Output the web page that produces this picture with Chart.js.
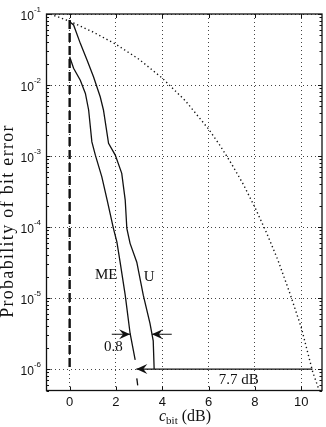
<!DOCTYPE html>
<html>
<head>
<meta charset="utf-8">
<script src="https://cdn.jsdelivr.net/npm/chart.js@4.4.1/dist/chart.umd.min.js"></script>
<style>
  html, body { margin: 0; padding: 0; background: #fff; }
</style>
</head>
<body>
<canvas id="berChart" width="326" height="427"></canvas>
<script>
// axis ticks
const xTicks = [0, 2, 4, 6, 8, 10];
const yDecades = [-6, -5, -4, -3, -2, -1];

// uncoded reference curve (dotted)
const refX = [-1, -0.5, 0, 1, 2, 3, 4, 5, 6, 6.5, 7, 7.5, 8, 8.5, 9, 9.5, 10, 10.5, 10.8];
const refY = [0.104, 0.091, 0.079, 0.056, 0.0375, 0.023, 0.0125, 0.006, 0.0024, 0.0014, 7.7e-4, 4.0e-4, 1.9e-4, 8.4e-5, 3.4e-5, 1.2e-5, 3.9e-6, 9.1e-7, 4.8e-7];

// U curve
const uX = [0, 0.17, 0.46, 0.75, 1.03, 1.32, 1.46, 1.68, 1.97, 2.25, 2.4, 2.47, 2.61, 2.9, 3.18, 3.47, 3.61, 3.65];
const uY = [0.078, 0.07, 0.0386, 0.0225, 0.0131, 0.00684, 0.00445, 0.00151, 0.00103, 5.7e-4, 2.4e-4, 9.6e-5, 5.9e-5, 3.2e-5, 1.1e-5, 4.4e-6, 2.5e-6, 1e-6];

// ME curve
const meX = [0, 0.17, 0.46, 0.68, 0.82, 0.96, 1.11, 1.39, 1.62, 1.89, 2.04, 2.18, 2.4, 2.61, 2.83];
const meY = [0.025, 0.0172, 0.0117, 0.0076, 0.00445, 0.00158, 0.00103, 5.1e-4, 2.4e-4, 9.6e-5, 6.2e-5, 3.2e-5, 1.1e-5, 3.2e-6, 1.35e-6];
const meTailX = [2.9, 2.94];
const meTailY = [7.4e-7, 5.9e-7];

// limit line at 0 dB
const limitX = [0, 0];
const limitY = [0.082, 1e-6];

// arrows: [tail x, tip x] at level y
const arrowMe = { x: [1.82, 2.61], y: 3.1e-6 };
const arrowU = { x: [4.41, 3.55], y: 3.1e-6 };
const arrowGap = { x: [10.49, 2.88], y: 1e-6 };

// text notes
const notes = [
  { text: 'ME', x: 1.58, y: 2.1e-5 },
  { text: 'U', x: 3.43, y: 2.0e-5 },
  { text: '0.8', x: 1.89, y: 2.06e-6 },
  { text: '7.7 dB', x: 7.3, y: 7.0e-7 }
];

const pts = (xs, ys) => xs.map((x, i) => ({ x: x, y: ys[i] }));
const ink = '#111';

const lineSet = (data, extra) => Object.assign({
  data: data,
  borderColor: ink,
  borderWidth: 1.3,
  pointRadius: 0,
  fill: false,
  tension: 0
}, extra || {});

const arrowSet = a => lineSet(pts(a.x, [a.y, a.y]), { borderWidth: 1.1 });

function arrowHead(ctx, tx, ty, dir) {
  ctx.beginPath();
  ctx.moveTo(tx, ty);
  ctx.lineTo(tx - dir * 11, ty - 5);
  ctx.lineTo(tx - dir * 7, ty);
  ctx.lineTo(tx - dir * 11, ty + 5);
  ctx.closePath();
  ctx.fill();
}

const decorations = {
  id: 'decorations',
  afterDatasetsDraw(chart) {
    const ctx = chart.ctx;
    const area = chart.chartArea;
    const xs = chart.scales.x;
    const ys = chart.scales.y;
    ctx.save();
    ctx.strokeStyle = ink;
    ctx.fillStyle = ink;

    // frame
    ctx.lineWidth = 1.3;
    ctx.strokeRect(area.left, area.top, area.right - area.left, area.bottom - area.top);

    // inward ticks
    ctx.lineWidth = 1;
    ctx.beginPath();
    xTicks.forEach(v => {
      const px = Math.round(xs.getPixelForValue(v)) + 0.5;
      ctx.moveTo(px, area.bottom); ctx.lineTo(px, area.bottom - 4);
      ctx.moveTo(px, area.top); ctx.lineTo(px, area.top + 4);
    });
    for (let n = -7; n <= -1; n++) {
      for (let k = 1; k <= 9; k++) {
        const v = k * Math.pow(10, n);
        if (v < ys.min || v > ys.max) continue;
        const py = Math.round(ys.getPixelForValue(v)) + 0.5;
        const len = k === 1 ? 4 : 2.5;
        ctx.moveTo(area.left, py); ctx.lineTo(area.left + len, py);
        ctx.moveTo(area.right, py); ctx.lineTo(area.right - len, py);
      }
    }
    ctx.stroke();

    // y tick labels 10^n
    yDecades.forEach(d => {
      const py = ys.getPixelForValue(Math.pow(10, d));
      const right = 41;
      ctx.textAlign = 'right';
      ctx.textBaseline = 'alphabetic';
      ctx.font = '8px "Liberation Sans"';
      const exp = '-' + (-d);
      const w = ctx.measureText(exp).width;
      ctx.fillText(exp, right, py - 2);
      ctx.font = '12px "Liberation Sans"';
      ctx.fillText('10', right - w, py + 6);
    });

    // arrow heads
    [arrowMe, arrowU, arrowGap].forEach(a => {
      const tip = xs.getPixelForValue(a.x[1]);
      const tail = xs.getPixelForValue(a.x[0]);
      arrowHead(ctx, tip, ys.getPixelForValue(a.y), tip > tail ? 1 : -1);
    });

    // notes
    ctx.font = '15px "Liberation Serif"';
    ctx.textAlign = 'center';
    ctx.textBaseline = 'middle';
    notes.forEach(n => {
      ctx.fillText(n.text, xs.getPixelForValue(n.x), ys.getPixelForValue(n.y));
    });

    // x title: c_bit (dB)
    ctx.textAlign = 'left';
    ctx.textBaseline = 'alphabetic';
    const base = 420.5;
    ctx.font = 'italic 16px "Liberation Serif"';
    const wc = ctx.measureText('c').width;
    ctx.font = '11px "Liberation Serif"';
    const wb = ctx.measureText('bit').width;
    ctx.font = '16px "Liberation Serif"';
    const wd = ctx.measureText(' (dB)').width;
    let x0 = 185 - (wc + wb + wd) / 2;
    ctx.font = 'italic 16px "Liberation Serif"';
    ctx.fillText('c', x0, base);
    ctx.font = '11px "Liberation Serif"';
    ctx.fillText('bit', x0 + wc, base + 3);
    ctx.font = '16px "Liberation Serif"';
    ctx.fillText(' (dB)', x0 + wc + wb, base);

    // y title
    ctx.save();
    ctx.translate(8.5, 221);
    ctx.rotate(-Math.PI / 2);
    ctx.textAlign = 'center';
    ctx.textBaseline = 'middle';
    ctx.font = '18px "Liberation Serif"';
    ctx.letterSpacing = '1.3px';
    ctx.fillText('Probability of bit error', 0, 0);
    ctx.restore();

    ctx.restore();
  }
};

new Chart(document.getElementById('berChart'), {
  type: 'line',
  data: {
    datasets: [
      lineSet(pts(refX, refY), { borderWidth: 1.4, borderDash: [1.3, 2.8] }),
      lineSet(pts(uX, uY)),
      lineSet(pts(meX, meY)),
      lineSet(pts(meTailX, meTailY)),
      lineSet(pts(limitX, limitY), { borderWidth: 2.4, borderDash: [9, 4] }),
      arrowSet(arrowMe),
      arrowSet(arrowU),
      arrowSet(arrowGap)
    ]
  },
  options: {
    responsive: false,
    devicePixelRatio: 1,
    animation: false,
    layout: { padding: { left: 0, top: 14, right: 4, bottom: 0 } },
    plugins: {
      legend: { display: false },
      tooltip: { enabled: false }
    },
    scales: {
      x: {
        type: 'linear',
        min: -1,
        max: 10.9,
        afterBuildTicks: s => { s.ticks = xTicks.map(v => ({ value: v })); },
        afterFit: s => { s.height = 36.5; },
        grid: { color: '#444', lineWidth: 1, drawTicks: false },
        border: { display: false, dash: [1, 3] },
        ticks: {
          padding: 4,
          color: ink,
          font: { family: 'Liberation Sans', size: 13 },
          maxRotation: 0
        }
      },
      y: {
        type: 'logarithmic',
        min: 5e-7,
        max: 0.1,
        afterBuildTicks: s => { s.ticks = yDecades.map(d => ({ value: Math.pow(10, d) })); },
        afterFit: s => { s.width = 46.5; },
        grid: { color: '#444', lineWidth: 1, drawTicks: false },
        border: { display: false, dash: [1, 3] },
        ticks: { display: false }
      }
    }
  },
  plugins: [decorations]
});
</script>
</body>
</html>
